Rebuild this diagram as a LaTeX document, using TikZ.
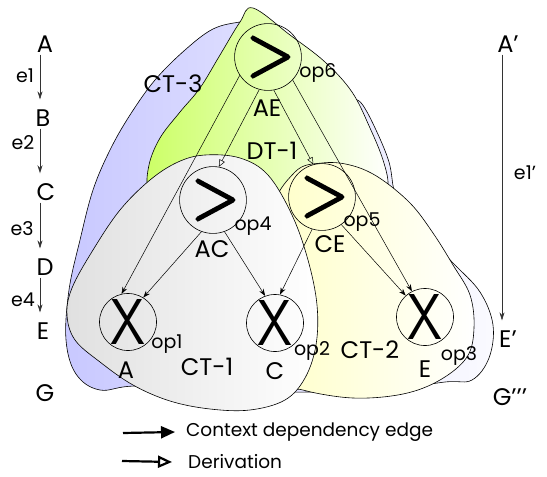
\documentclass[tikz,border=0pt]{standalone}
\usepackage{fontspec}
\usepackage{graphicx}
\setmainfont{Poppins}
\newfontfamily\gtfont{lmroman10-regular}[Extension=.otf, FakeBold=3]
\usetikzlibrary{arrows.meta}

\definecolor{ctblue}{HTML}{C8C8FF}
\definecolor{dtgreen}{HTML}{CCFF66}
\definecolor{ctgray}{HTML}{E0E0E0}
\definecolor{ctyellow}{HTML}{FFFFC8}

\newcommand\gtsym{\hspace*{5pt}\resizebox{48pt}{38pt}{\gtfont >}}
\newcommand\xsym{\resizebox{35pt}{45pt}{\sffamily X}}

\begin{document}
\begin{tikzpicture}[x=1pt,y=-1pt,
  blob/.style={draw=black, line width=0.6pt},
  lbl/.style={font=\fontsize{24}{24}\selectfont, inner sep=0pt},
  sub/.style={font=\fontsize{19}{19}\selectfont, inner sep=0pt},
  leg/.style={font=\fontsize{18.5}{18.5}\selectfont, inner sep=0pt, anchor=west},
  opc/.style={circle, draw, line width=0.6pt, minimum size=54pt, inner sep=0pt},
  ctx/.style={-{Stealth[length=7pt,width=5pt]}, line width=0.5pt},
  der/.style={-{Triangle[open,length=7pt,width=6pt]}, line width=0.5pt},
  seq/.style={-{Stealth[length=8pt,width=5pt]}, line width=0.6pt, draw=black!80},
  bigctx/.style={-{Triangle[length=14pt,width=12pt]}, line width=2.2pt},
  bigder/.style={-{Triangle[open,length=14pt,width=12pt]}, line width=2.2pt}
]
\useasboundingbox (0,0) rectangle (547,477);

% ---- context trees and derivation tree (back to front) ----
\draw[blob, left color=ctblue, right color=ctblue!8]
  plot[smooth cycle, tension=0.6] coordinates {
  (240,22) (255,22) (285,46) (320,72) (350,96) (362,104) (376,130) (389,162)
  (394,190) (402,207) (425,234) (453,263) (480,292) (493,325) (489,358)
  (472,380) (445,382) (380,390) (250,392) (140,386) (100,390) (76,374)
  (66,340) (69,290) (80,240) (93,190) (110,150) (130,115) (155,80) (185,50)
  (213,29)};

\draw[blob, left color=dtgreen, right color=white]
  plot[smooth cycle, tension=0.6] coordinates {
  (253,8) (290,35) (325,62) (352,92) (370,128) (383,160) (388,185) (380,200)
  (330,205) (250,205) (170,200) (149,190) (149,165) (160,138) (180,112)
  (200,88) (220,55) (240,22)};

\draw[blob, left color=ctyellow, right color=white]
  plot[smooth cycle, tension=0.6] coordinates {
  (322,163) (350,165) (378,177) (410,203) (433,233) (453,265) (470,295)
  (474,328) (467,357) (440,380) (403,394) (353,398) (303,390) (290,380)
  (285,300) (272,215) (295,172)};

\draw[blob, left color=ctgray, right color=white]
  plot[smooth cycle, tension=0.6] coordinates {
  (205,155) (240,158) (268,175) (292,215) (308,260) (317,305) (316,345)
  (305,378) (285,400) (250,410) (210,409) (170,401) (133,385) (100,362)
  (75,340) (67,315) (72,288) (93,250) (120,210) (150,180) (178,162)};

% ---- operator nodes ----
\node[opc] (op6) at (268,57)  {\gtsym};
\node[opc] (op4) at (213,200) {\gtsym};
\node[opc] (op5) at (322,197) {\gtsym};
\node[opc] (op1) at (128,322) {\xsym};
\node[opc] (op2) at (275,323) {\xsym};
\node[opc] (op3) at (425,317) {\xsym};

\node[sub] (s6) at (318,73)  {op6};
\node[sub] (s4) at (253,226) {op4};
\node[sub] (s5) at (362,222) {op5};
\node[sub] (s1) at (167,344) {op1};
\node[sub] (s2) at (312,351) {op2};
\node[sub] (s3) at (459,356) {op3};

\node[lbl] (lAE) at (267,108) {AE};
\node[lbl] (lAC) at (212,249) {AC};
\node[lbl] (lCE) at (330,244) {CE};
\node[lbl] (lA)  at (126,370) {A};
\node[lbl] (lC)  at (275,371) {C};
\node[lbl] (lE)  at (425,369) {E};

\node[lbl] (ct3) at (173,84)  {CT-3};
\node[lbl] (dt1) at (272,151) {DT-1};
\node[lbl] (ct1) at (207,367) {CT-1};
\node[lbl] (ct2) at (370,350) {CT-2};

% ---- dependencies and derivations ----
\draw[ctx] (op6.213) -- (op1.103);
\draw[ctx] (op6.317) -- (op3.117);
\draw[der] (op6.255) -- (op4.80);
\draw[der] (op6.280) -- (op5.105);
\draw[ctx] (op4.250) -- (op1.58);
\draw[ctx] (op4.290) -- (op2.110);
\draw[ctx] (op5.253) -- (op2.80);
\draw[ctx] (op5.305) -- (op3.132);

% ---- left sequence ----
\node[lbl] (A) at (45,44)  {A};
\node[lbl] (B) at (43,118) {B};
\node[lbl] (C) at (46,192) {C};
\node[lbl] (D) at (45,267) {D};
\node[lbl] (E) at (43,331) {E};
\node[lbl] (G) at (45,393) {G};
\node[sub] (e1) at (25,76)  {e1};
\node[sub] (e2) at (23,143) {e2};
\node[sub] (e3) at (22,229) {e3};
\node[sub] (e4) at (23,300) {e4};
\draw[seq] ([xshift=-5pt,yshift=-2pt]A.south) -- ([xshift=-3pt,yshift=10pt]B.north);
\draw[seq] ([xshift=-3pt,yshift=-2pt]B.south) -- ([xshift=-6pt,yshift=10pt]C.north);
\draw[seq] ([xshift=-6pt,yshift=-2pt]C.south) -- ([xshift=-5pt,yshift=10pt]D.north);
\draw[seq] ([xshift=-5pt,yshift=-2pt]D.south) -- ([xshift=-3pt,yshift=10pt]E.north);

% ---- right sequence ----
\node[lbl] (Ap) at (508,44)  {A’};
\node[lbl] (Ep) at (508,339) {E’};
\node[lbl] (Gp) at (510,397) {G’’’};
\node[sub] (e1p) at (525,173) {e1’};
\draw[seq] ([xshift=-6pt,yshift=-2pt]Ap.south) -- ([xshift=-6pt,yshift=10pt]Ep.north);

% ---- legend ----
\coordinate (k1) at (123,433);
\coordinate (k2) at (122,461);
\node[leg] (t1) at (186,432) {Context dependency edge};
\node[leg] (t2) at (188,462) {Derivation};
\draw[bigctx] (k1) -- ([xshift=-11pt]t1.west);
\draw[bigder] (k2) -- ([xshift=-16pt]t2.west);
\end{tikzpicture}
\end{document}
